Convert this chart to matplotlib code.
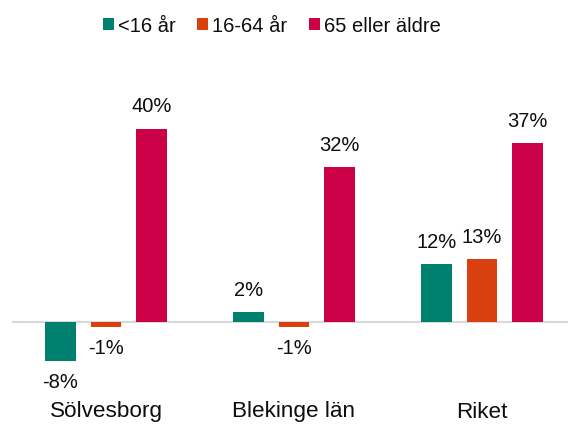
import matplotlib
matplotlib.use("Agg")
import matplotlib.pyplot as plt
from matplotlib.patches import Patch

plt.rcParams['font.family'] = ['Liberation Sans', 'DejaVu Sans']

categories = ["Sölvesborg", "Blekinge län", "Riket"]
series_names = ["<16 år", "16-64 år", "65 eller äldre"]
under16 = [-8, 2, 12]
age16_64 = [-1, -1, 13]
over65 = [40, 32, 37]
colors = ["#00806f", "#d9400f", "#cc0047"]

W, H = 568, 424
fig = plt.figure(figsize=(W / 100, H / 100), dpi=100)
px_per = 4.83
zero_px = 322
ymin, ymax = -16, 54
ax_left, ax_right = 12, 576
bottom_px = zero_px + (-ymin) * px_per
height_px = (ymax - ymin) * px_per
ax = fig.add_axes([ax_left / W, (H - bottom_px) / H, (ax_right - ax_left) / W, height_px / H])
ax.set_xlim(-0.5, 2.5)
ax.set_ylim(ymin, ymax)

step = 45.5 / 188
width = 30.5 / 188
all_series = [under16, age16_64, over65]
for k, (vals, col) in enumerate(zip(all_series, colors)):
    xs = [i + (k - 1) * step for i in range(len(categories))]
    ax.bar(xs, vals, width=width, color=col, zorder=2)
    for x, v in zip(xs, vals):
        off = 15.8 if v >= 0 else -15.8
        ax.annotate(f"{v}%", (x, v), xytext=(0, off), textcoords="offset points",
                    ha="center", va="center", fontsize=14.5, color="#0d0d0d")

ax.axhline(0, color="#d9d9d9", lw=1.5, zorder=1)
for i, c in enumerate(categories):
    ax.text(i, (zero_px - 412) / px_per, c, ha="center", va="center", fontsize=16.2, color="#0d0d0d",
            clip_on=False)

for s in ax.spines.values():
    s.set_visible(False)
ax.set_xticks([])
ax.set_yticks([])

handles = [Patch(facecolor=c, edgecolor="none") for c in colors]
fig.legend(handles, series_names, loc="center", bbox_to_anchor=(272 / W, 1 - 26 / H), ncol=3,
           frameon=False, fontsize=14.5, handlelength=0.55, handleheight=0.55, handletextpad=0.2,
           columnspacing=1.05, borderpad=0, labelcolor="#0d0d0d")

fig.savefig("out.png", dpi=100)
